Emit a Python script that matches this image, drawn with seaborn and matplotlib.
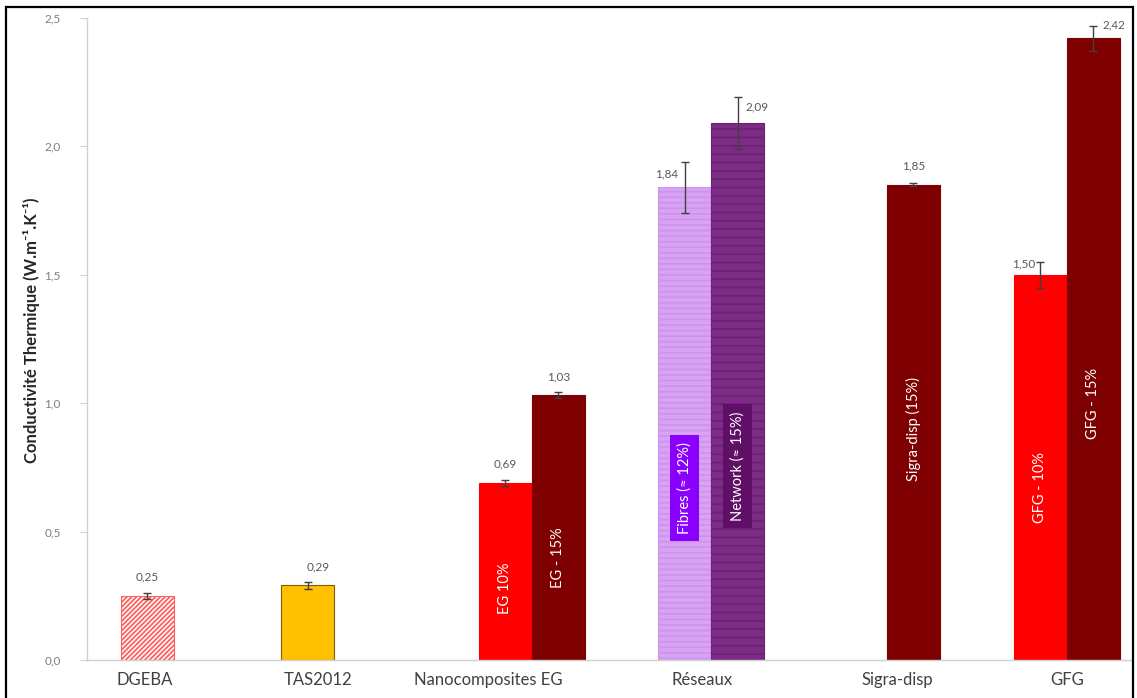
import matplotlib
matplotlib.use("Agg")
import matplotlib.pyplot as plt
from matplotlib.patches import Rectangle
from matplotlib.ticker import FuncFormatter
import numpy as np
import pandas as pd
import seaborn as sns

# data
categories = ["DGEBA", "TAS2012", "Nanocomposites EG", "Réseaux", "Sigra-disp", "GFG"]
bar_names = ["DGEBA", "TAS2012", "EG 10%", "EG - 15%", "Fibres (≈ 12%)",
             "Network (≈ 15%)", "Sigra-disp (15%)", "GFG - 10%", "GFG - 15%"]
bar_group = [0, 1, 2, 2, 3, 3, 4, 5, 5]
conductivity = [0.25, 0.29, 0.69, 1.03, 1.84, 2.09, 1.85, 1.50, 2.42]
errors = [0.012, 0.012, 0.012, 0.012, 0.10, 0.10, 0.005, 0.05, 0.05]

# layout (x in bar-width units)
group_x = [1.14, 4.16, 8.39, 11.77, 15.58, 18.47]
bar_offset = [0, 0, -0.5, 0.5, -0.5, 0.5, 0, -0.5, 0.5]
tick_x = [1.09, 4.36, 7.57, 11.60, 15.28, 18.49]

face = ["white", "#FFC000", "#FF0000", "#7F0000", "#D9A3F5", "#7C2C84",
        "#7F0000", "#FF0000", "#7F0000"]
edge = ["#FF6060", "#7F6000", "#FF0000", "#7F0000", "#CC94EC", "#6C2274",
        "#7F0000", "#FF0000", "#7F0000"]
hatch = ["/" * 7, None, None, None, "---", "--", None, None, None]

# in-bar labels: y centre (data units), box colour
inner_y = [None, None, 0.28, 0.40, 0.67, 0.755, 0.90, 0.67, 1.00]
inner_box = [None, None, None, None, "#8A00FF", "#5F0F66", None, None, None]

# value labels: ha, dx, dy
val_pos = [("center", 0, 0.05), ("center", 0.2, 0.05), ("center", 0, 0.05),
           ("center", 0, 0.05), ("right", -0.12, 0.03), ("left", 0.14, 0.04),
           ("center", 0, 0.05), ("right", -0.08, 0.02), ("left", 0.18, 0.03)]

sns.set_theme(style="white")
plt.rcParams["font.family"] = ["Lato", "DejaVu Sans"]
plt.rcParams["hatch.linewidth"] = 1.3

df = pd.DataFrame({
    "x": [group_x[g] + o for g, o in zip(bar_group, bar_offset)],
    "value": conductivity,
    "err": errors,
    "name": bar_names,
})
df["face"], df["edge"], df["hatch"] = face, edge, hatch
df["inner_y"], df["inner_box"] = inner_y, inner_box
df["val_pos"] = val_pos
df = df.sort_values("x").reset_index(drop=True)

fig = plt.figure(figsize=(11.37, 6.98), dpi=100)
ax = fig.add_axes([0.0765, 0.0545, 0.918, 0.92])

sns.barplot(data=df, x="x", y="value", native_scale=True, width=1.0,
            errorbar=None, color="gray", ax=ax)

for patch, (_, row) in zip(ax.patches, df.iterrows()):
    patch.set_facecolor(row["face"])
    patch.set_edgecolor(row["edge"])
    patch.set_linewidth(0.8)
    if row["hatch"]:
        patch.set_hatch(row["hatch"])

ax.errorbar(df["x"], df["value"], yerr=df["err"], fmt="none",
            ecolor="#404040", elinewidth=1, capsize=3, capthick=1)

for _, row in df.iterrows():
    ha, dx, dy = row["val_pos"]
    ax.text(row["x"] + dx, row["value"] + dy, f"{row['value']:.2f}".replace(".", ","),
            ha=ha, va="bottom", fontsize=8.5, color="#595959")
    if row["inner_y"] is not None and not pd.isna(row["inner_y"]):
        bbox = None
        if isinstance(row["inner_box"], str):
            bbox = dict(boxstyle="square,pad=0.5", fc=row["inner_box"], ec="none")
        ax.text(row["x"], row["inner_y"], row["name"], rotation=90,
                ha="center", va="center", fontsize=10.5, color="white",
                bbox=bbox)

ax.set_xlim(0, 19.68)
ax.set_ylim(0, 2.5)
ax.set_yticks(np.arange(0, 2.51, 0.5))
ax.yaxis.set_major_formatter(FuncFormatter(lambda v, p: f"{v:.1f}".replace(".", ",")))
ax.set_xticks(tick_x)
ax.set_xticklabels(categories, fontsize=12, color="#404040")
ax.tick_params(axis="x", length=0, pad=9)
ax.tick_params(axis="y", length=5, width=0.8, color="#D0D0D0",
               labelsize=8.5, labelcolor="#7F7F7F", left=True, pad=14)
ax.set_xlabel("")
ax.set_ylabel("Conductivité Thermique (W.m⁻¹.K⁻¹)", fontsize=12,
              fontweight="bold", color="#262626")
ax.yaxis.set_label_coords(-0.045, 0.514)
for side in ["top", "right"]:
    ax.spines[side].set_visible(False)
for side in ["left", "bottom"]:
    ax.spines[side].set_color("#D0D0D0")
    ax.spines[side].set_linewidth(1)

# black frame around the whole picture
fig.patches.append(Rectangle((6 / 1137, -0.05), 1127 / 1137, 1.05 - 7 / 698,
                             transform=fig.transFigure, fill=False,
                             edgecolor="black", linewidth=1.6))

fig.savefig("out.png", dpi=100)
